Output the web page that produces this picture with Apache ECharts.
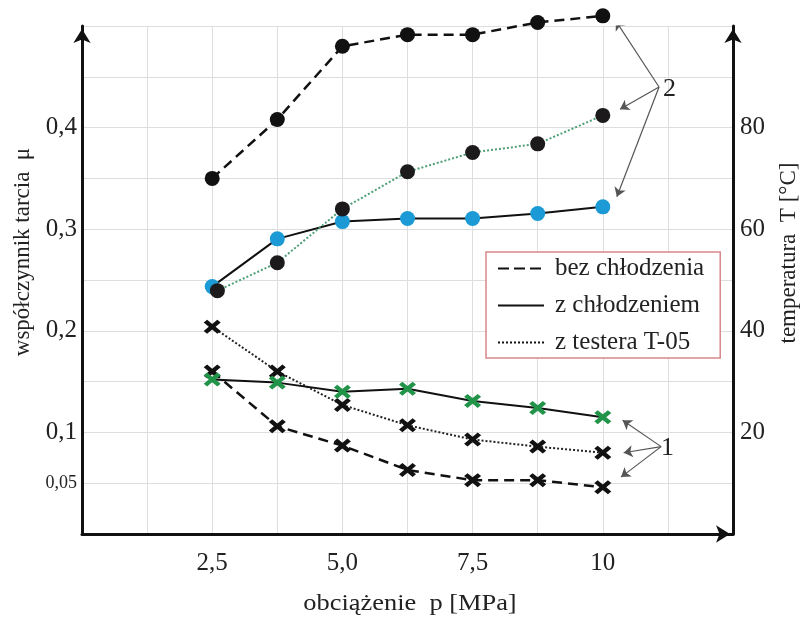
<!DOCTYPE html>
<html>
<head>
<meta charset="utf-8">
<script src="https://cdn.jsdelivr.net/npm/echarts@6/dist/echarts.min.js"></script>
<style>
  html, body { margin: 0; padding: 0; background: #fff; }
  #chart { width: 805px; height: 619px; }
</style>
</head>
<body>
<div id="chart"></div>
<script>
// obciazenie p [MPa]
var loads = [2.5, 3.75, 5.0, 6.25, 7.5, 8.75, 10];
var loadsTester = [2.6, 3.75, 5.0, 6.25, 7.5, 8.75, 10];

// temperatura T [C] (os prawa)
var tempBez = [70.0, 81.6, 96.0, 98.3, 98.3, 100.7, 102.0];
var tempChl = [48.7, 58.1, 61.5, 62.1, 62.1, 63.1, 64.4];
var tempTester = [47.9, 53.4, 64.0, 71.3, 75.1, 76.8, 82.4];

// wspolczynnik tarcia mu (os lewa)
var muBez = [0.160, 0.106, 0.087, 0.063, 0.053, 0.053, 0.046];
var muChl = [0.152, 0.149, 0.140, 0.143, 0.131, 0.124, 0.115];
var muTester = [0.204, 0.160, 0.127, 0.107, 0.093, 0.086, 0.080];

// opisy osi
var xTicks = [2.5, 5, 7.5, 10];
var xTickLabels = ['2,5', '5,0', '7,5', '10'];
var muTicks = [0.05, 0.1, 0.2, 0.3, 0.4];
var muTickLabels = ['{s|0,05}', '0,1', '0,2', '0,3', '0,4'];
var tTicks = [20, 40, 60, 80];
var tTickLabels = ['20', '40', '60', '80'];

// strzalki z opisami "1" i "2"
var arrowsFrom2 = [11.08, 0.440];
var arrowsTo2 = [[10.25, 0.505], [10.33, 0.418], [10.27, 0.332]];
var arrowsFrom1 = [11.12, 0.086];
var arrowsTo1 = [[10.38, 0.112], [10.40, 0.080], [10.35, 0.056]];

var serif = '"Liberation Serif", "DejaVu Serif", serif';
var xMark = 'path://M0,2 L2,0 L5,3 L8,0 L10,2 L7,5 L10,8 L8,10 L5,7 L2,10 L0,8 L3,5 Z';

function pick(ticks, labels) {
  return function (v) {
    for (var i = 0; i < ticks.length; i++) {
      if (Math.abs(ticks[i] - v) < 1e-6) return labels[i];
    }
    return '';
  };
}
function pairs(xs, ys) {
  return xs.map(function (x, i) { return [x, ys[i]]; });
}

var dashed = [10, 6];
var dotted = [2, 2];

var arrowLines = [];
arrowsTo2.forEach(function (p) { arrowLines.push({ coords: [arrowsFrom2, p] }); });
arrowsTo1.forEach(function (p) { arrowLines.push({ coords: [arrowsFrom1, p] }); });

var axisArrow = { symbol: ['none', 'arrow'], symbolSize: [13, 14], symbolOffset: [0, -3] };

var chart = echarts.init(document.getElementById('chart'));

chart.setOption({
  animation: false,
  backgroundColor: '#fff',
  grid: { left: 82, right: 72, top: 26, bottom: 85 },
  xAxis: {
    type: 'value', min: 0, max: 12.5, interval: 1.25,
    axisLine: Object.assign({ lineStyle: { color: '#111', width: 3 } }, axisArrow),
    axisTick: { show: false },
    splitLine: { lineStyle: { color: '#dedede', width: 1 } },
    axisLabel: { formatter: pick(xTicks, xTickLabels), color: '#222', fontFamily: serif, fontSize: 25, margin: 17, showMinLabel: true, showMaxLabel: true }
  },
  yAxis: [
    {
      type: 'value', min: 0, max: 0.5, interval: 0.05,
      axisLine: Object.assign({ show: true, lineStyle: { color: '#111', width: 3 } }, axisArrow),
      axisTick: { show: false },
      splitLine: { lineStyle: { color: '#dedede', width: 1 } },
      axisLabel: {
        formatter: pick(muTicks, muTickLabels), color: '#222', fontFamily: serif, fontSize: 25, margin: 5,
        rich: { s: { fontSize: 18, fontFamily: serif, color: '#222' } }
      }
    },
    {
      type: 'value', min: 0, max: 100, interval: 10, position: 'right',
      axisLine: Object.assign({ show: true, lineStyle: { color: '#111', width: 3 } }, axisArrow),
      axisTick: { show: false },
      splitLine: { show: false },
      axisLabel: { formatter: pick(tTicks, tTickLabels), color: '#222', fontFamily: serif, fontSize: 25, margin: 7 }
    }
  ],
  legend: {
    left: 486, top: 252, orient: 'vertical', selectedMode: false,
    data: ['bez chłodzenia', 'z chłodzeniem', 'z testera T-05'],
    itemWidth: 46, itemHeight: 14, itemGap: 12,
    padding: [4, 16, 3, 11],
    borderColor: '#d8878b', borderWidth: 1.5, backgroundColor: '#fff',
    itemStyle: { opacity: 0 },
    textStyle: { fontFamily: serif, fontSize: 25, color: '#222', padding: [0, 0, 0, 6] }
  },
  graphic: [
    { type: 'text', x: 23, y: 252, rotation: Math.PI / 2,
      style: { text: 'współczynnik tarcia  μ', fontFamily: serif, fontSize: 23, fill: '#222', align: 'center', verticalAlign: 'middle', textAlign: 'center', textVerticalAlign: 'middle' } },
    { type: 'text', x: 789, y: 253, rotation: Math.PI / 2,
      style: { text: 'temperatura  T [°C]', fontFamily: serif, fontSize: 23, fill: '#222', align: 'center', verticalAlign: 'middle', textAlign: 'center', textVerticalAlign: 'middle' } },
    { type: 'text', x: 410, y: 604, scaleX: 1.1,
      style: { text: 'obciążenie  p [MPa]', fontFamily: serif, fontSize: 24, fill: '#222', align: 'center', verticalAlign: 'middle', textAlign: 'center', textVerticalAlign: 'middle' } }
  ],
  series: [
    // wpisy legendy
    { name: 'bez chłodzenia', type: 'line', data: [], symbol: 'none', lineStyle: { color: '#111', width: 2.5, type: [11, 5] } },
    { name: 'z chłodzeniem', type: 'line', data: [], symbol: 'none', lineStyle: { color: '#111', width: 2.5 } },
    { name: 'z testera T-05', type: 'line', data: [], symbol: 'none', lineStyle: { color: '#111', width: 2.5, type: [2, 2] } },

    // temperatura
    { name: 'T bez', type: 'line', yAxisIndex: 1, clip: false, data: pairs(loads, tempBez),
      symbol: 'circle', symbolSize: 15, itemStyle: { color: '#111' },
      lineStyle: { color: '#111', width: 2.5, type: dashed }, z: 3 },
    { name: 'T chl', type: 'line', yAxisIndex: 1, clip: false, data: pairs(loads, tempChl),
      symbol: 'circle', symbolSize: 15, itemStyle: { color: '#1b9ad6' },
      lineStyle: { color: '#111', width: 2 }, z: 3 },
    { name: 'T tester', type: 'line', yAxisIndex: 1, clip: false, data: pairs(loadsTester, tempTester),
      symbol: 'circle', symbolSize: 15, itemStyle: { color: '#1c1a1a' },
      lineStyle: { color: '#4f9f76', width: 2, type: dotted }, z: 4 },

    // wspolczynnik tarcia
    { name: 'mu bez', type: 'line', yAxisIndex: 0, clip: false, data: pairs(loads, muBez),
      symbol: xMark, symbolSize: [17, 14], itemStyle: { color: '#111' },
      lineStyle: { color: '#111', width: 2.5, type: dashed }, z: 3 },
    { name: 'mu tester', type: 'line', yAxisIndex: 0, clip: false, data: pairs(loads, muTester),
      symbol: xMark, symbolSize: [17, 14], itemStyle: { color: '#111' },
      lineStyle: { color: '#222', width: 2, type: dotted }, z: 3 },
    { name: 'mu chl', type: 'line', yAxisIndex: 0, clip: false, data: pairs(loads, muChl),
      symbol: xMark, symbolSize: [17, 14], itemStyle: { color: '#22944a' },
      lineStyle: { color: '#111', width: 2 }, z: 4 },

    // strzalki
    { name: 'strzalki', type: 'lines', coordinateSystem: 'cartesian2d', xAxisIndex: 0, yAxisIndex: 0,
      silent: true, symbol: ['none', 'arrow'], symbolSize: 9,
      lineStyle: { color: '#555', width: 1.2, opacity: 1 },
      data: arrowLines, z: 5 },

    // opisy "1" i "2"
    { name: 'opisy', type: 'line', yAxisIndex: 0, data: [],
      markPoint: {
        silent: true, animation: false, symbol: 'rect', symbolSize: 1, itemStyle: { color: 'rgba(0,0,0,0)' },
        label: { show: true, position: 'inside', formatter: '{b}', color: '#222', fontFamily: serif, fontSize: 26 },
        data: [
          { name: '2', coord: [11.28, 0.438] },
          { name: '1', coord: [11.24, 0.084] }
        ]
      }
    }
  ]
});
</script>
</body>
</html>
